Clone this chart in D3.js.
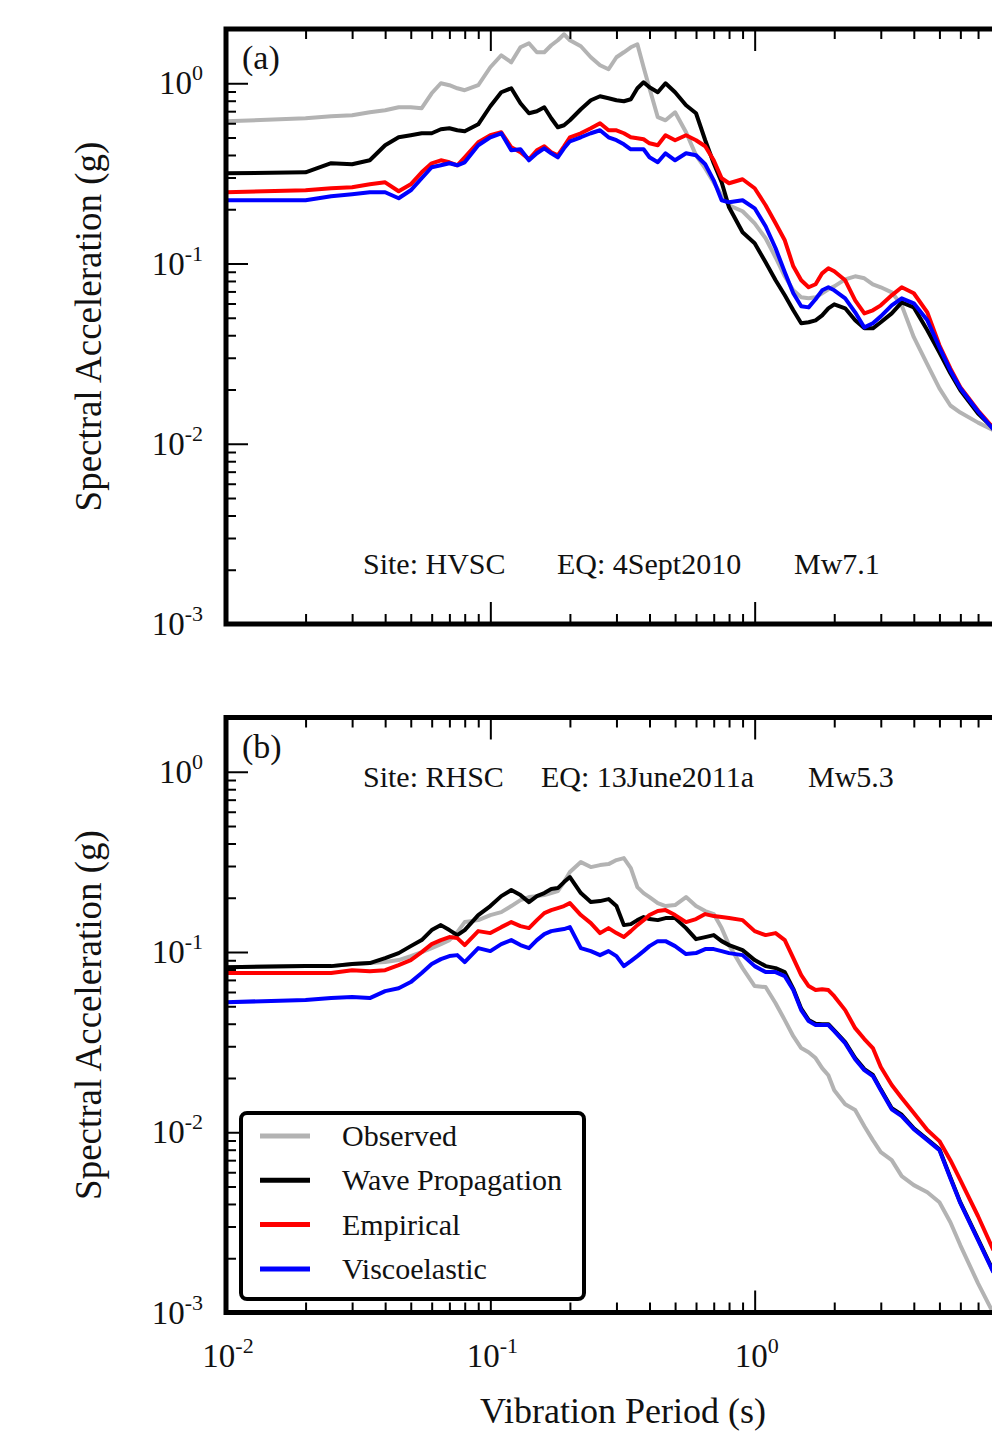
<!DOCTYPE html>
<html>
<head>
<meta charset="utf-8">
<script src="https://cdn.jsdelivr.net/npm/d3@7/dist/d3.min.js"></script>
<style>
  body { margin: 0; background: #fff; }
  text { font-family: "Liberation Serif", "Times New Roman", serif; fill: #111; }
</style>
</head>
<body>
<div id="chart"></div>
<script>
// periods (s), shared by every curve
var periods = [0.01, 0.02, 0.025, 0.03, 0.035, 0.04, 0.045, 0.05, 0.055, 0.06, 0.065, 0.07, 0.075, 0.08, 0.09,
  0.1, 0.11, 0.12, 0.13, 0.14, 0.15, 0.16, 0.17, 0.18, 0.19, 0.2, 0.22, 0.24, 0.26, 0.28, 0.3,
  0.32, 0.34, 0.36, 0.38, 0.4, 0.43, 0.46, 0.5, 0.55, 0.6, 0.65, 0.7, 0.75, 0.8, 0.9,
  1.0, 1.1, 1.2, 1.3, 1.4, 1.5, 1.6, 1.7, 1.8, 1.9, 2.0, 2.2, 2.4, 2.6, 2.8, 3.0, 3.3, 3.6,
  4.0, 4.5, 5.0, 5.5, 6.0, 7.0, 8.0];

// panel (a) - HVSC, 4 Sept 2010
var obsA = [0.615, 0.639, 0.656, 0.664, 0.690, 0.708, 0.736, 0.736, 0.727, 0.880, 1.0, 0.975, 0.938, 0.915, 0.975,
  1.227, 1.430, 1.307, 1.584, 1.667, 1.486, 1.486, 1.625, 1.732, 1.870, 1.732, 1.604, 1.394, 1.259,
  1.196, 1.394, 1.486, 1.584, 1.646, 1.227, 0.938, 0.648, 0.623, 0.690, 0.535, 0.398, 0.337, 0.282,
  0.239, 0.210, 0.195, 0.167, 0.138, 0.108, 0.0849, 0.0710, 0.0649, 0.0641, 0.0649, 0.0684, 0.0719,
  0.0747, 0.0817, 0.0849, 0.0828, 0.0767, 0.0738, 0.0692, 0.0586, 0.0390, 0.0276, 0.0203, 0.0163,
  0.0149, 0.0131, 0.0119];
var waveA = [0.3166, 0.3207, 0.3600, 0.3552, 0.3740, 0.4529, 0.5017, 0.5146, 0.5280, 0.5280, 0.5556, 0.5627, 0.5485,
  0.5416, 0.5922, 0.7455, 0.8914, 0.9382, 0.7745, 0.6816, 0.6993, 0.7360, 0.6394, 0.5700, 0.5847,
  0.6232, 0.7172, 0.8048, 0.8470, 0.8257, 0.8048, 0.7946, 0.8150, 0.9382, 1.013, 0.9502, 0.8914,
  1.0, 0.8914, 0.7547, 0.6816, 0.4829, 0.3598, 0.2822, 0.2050, 0.1490, 0.1295, 0.1016, 0.0807,
  0.0666, 0.0550, 0.0466, 0.0472, 0.0484, 0.0516, 0.0564, 0.0594, 0.0564, 0.0484, 0.0437, 0.0437,
  0.0472, 0.0529, 0.0609, 0.0571, 0.0426, 0.0321, 0.0246, 0.0198, 0.0147, 0.0122];
var empA = [0.2484, 0.2548, 0.2615, 0.2648, 0.2751, 0.2822, 0.2516, 0.2751, 0.3207, 0.3598, 0.3738, 0.3644, 0.3507,
  0.3884, 0.4705, 0.5146, 0.5347, 0.4414, 0.4142, 0.3786, 0.4246, 0.4471, 0.4142, 0.3985, 0.4471,
  0.5017, 0.5280, 0.5627, 0.5998, 0.5485, 0.5485, 0.5280, 0.5017, 0.4953, 0.4890, 0.4645, 0.4529,
  0.5146, 0.4829, 0.5146, 0.4829, 0.4471, 0.3738, 0.2971, 0.2787, 0.2934, 0.2615, 0.2104, 0.1671,
  0.1345, 0.0965, 0.0807, 0.0738, 0.0767, 0.0882, 0.0941, 0.0905, 0.0807, 0.0625, 0.0529, 0.0550,
  0.0586, 0.0666, 0.0738, 0.0684, 0.0536, 0.0352, 0.0262, 0.0206, 0.0153, 0.0122];
var viscoA = [0.2243, 0.2243, 0.2360, 0.2421, 0.2484, 0.2484, 0.2301, 0.2548, 0.2971, 0.3419, 0.3507, 0.3598, 0.3507,
  0.3644, 0.4529, 0.5017, 0.5280, 0.4246, 0.4302, 0.3738, 0.4089, 0.4357, 0.4089, 0.3884, 0.4357,
  0.4767, 0.5017, 0.5280, 0.5485, 0.5017, 0.4829, 0.4586, 0.4302, 0.4302, 0.4302, 0.3884, 0.3644,
  0.4089, 0.3738, 0.4089, 0.3985, 0.3552, 0.2894, 0.2243, 0.2186, 0.2243, 0.2024, 0.1609, 0.1215,
  0.0894, 0.0684, 0.0579, 0.0571, 0.0633, 0.0710, 0.0738, 0.0710, 0.0641, 0.0536, 0.0442, 0.0466,
  0.0509, 0.0586, 0.0641, 0.0601, 0.0484, 0.0343, 0.0255, 0.0203, 0.0151, 0.0120];

// panel (b) - RHSC, 13 June 2011a
var obsB = [0.0824, 0.0835, 0.0835, 0.0857, 0.0868, 0.0879, 0.0902, 0.0949, 0.0999, 0.1051, 0.1106, 0.1164, 0.1289,
  0.1466, 0.1503, 0.1603, 0.1665, 0.1798, 0.1941, 0.2017, 0.2042, 0.2069, 0.2123, 0.2178, 0.2443,
  0.2776, 0.3154, 0.2959, 0.3035, 0.3074, 0.3236, 0.3319, 0.2921, 0.2291, 0.2123, 0.2017, 0.1868,
  0.1798, 0.1821, 0.2017, 0.1798, 0.1687, 0.1623, 0.1357, 0.1092, 0.0814, 0.0647, 0.0639, 0.0520,
  0.0419, 0.0341, 0.0293, 0.0278, 0.0258, 0.0227, 0.0207, 0.0171, 0.0143, 0.0133, 0.0108, 0.00904,
  0.00776, 0.00700, 0.00571, 0.00509, 0.00465, 0.00409, 0.00317, 0.00236, 0.00145, 0.00099];
var waveB = [0.0824, 0.0835, 0.0835, 0.0857, 0.0868, 0.0925, 0.0986, 0.1078, 0.1164, 0.1323, 0.1410, 0.1323, 0.1241,
  0.1323, 0.1603, 0.1798, 0.2042, 0.2206, 0.2069, 0.1892, 0.2042, 0.2123, 0.2234, 0.2263, 0.2443,
  0.2604, 0.2123, 0.1892, 0.1916, 0.1966, 0.1798, 0.1410, 0.1428, 0.1503, 0.1562, 0.1523, 0.1503,
  0.1542, 0.1542, 0.1357, 0.1179, 0.1210, 0.1241, 0.1149, 0.1092, 0.1024, 0.0902, 0.0835, 0.0814,
  0.0774, 0.0625, 0.0485, 0.0420, 0.0400, 0.0398, 0.0398, 0.0368, 0.0316, 0.0258, 0.0224, 0.0208,
  0.0173, 0.0136, 0.0125, 0.0105, 0.00915, 0.00805, 0.00562, 0.00408, 0.00255, 0.00169];
var empB = [0.0764, 0.0764, 0.0764, 0.0793, 0.0783, 0.0793, 0.0846, 0.0902, 0.0999, 0.1106, 0.1164, 0.1210, 0.1194,
  0.1092, 0.1306, 0.1273, 0.1374, 0.1466, 0.1392, 0.1357, 0.1503, 0.1644, 0.1708, 0.1752, 0.1798,
  0.1868, 0.1603, 0.1446, 0.1273, 0.1357, 0.1273, 0.1210, 0.1306, 0.1410, 0.1503, 0.1603, 0.1687,
  0.1708, 0.1603, 0.1466, 0.1523, 0.1623, 0.1582, 0.1562, 0.1542, 0.1503, 0.1306, 0.1241, 0.1273,
  0.1164, 0.0925, 0.0744, 0.0647, 0.0615, 0.0622, 0.0615, 0.0569, 0.0476, 0.0378, 0.0329, 0.0293,
  0.0230, 0.0183, 0.0155, 0.0128, 0.0103, 0.00893, 0.00700, 0.00542, 0.00342, 0.00222];
var viscoB = [0.0527, 0.0541, 0.0555, 0.0562, 0.0555, 0.0607, 0.0630, 0.0681, 0.0764, 0.0857, 0.0913, 0.0949, 0.0961,
  0.0879, 0.1051, 0.1012, 0.1106, 0.1164, 0.1092, 0.1051, 0.1164, 0.1257, 0.1306, 0.1323, 0.1340,
  0.1374, 0.1051, 0.1012, 0.0961, 0.1012, 0.0949, 0.0835, 0.0890, 0.0949, 0.1012, 0.1078, 0.1149,
  0.1149, 0.1078, 0.0974, 0.0986, 0.1038, 0.1038, 0.1012, 0.0986, 0.0961, 0.0835, 0.0774, 0.0774,
  0.0735, 0.0615, 0.0476, 0.0414, 0.0393, 0.0393, 0.0393, 0.0364, 0.0312, 0.0254, 0.0221, 0.0205,
  0.0171, 0.0134, 0.0123, 0.0104, 0.00904, 0.00796, 0.00556, 0.00404, 0.00252, 0.00167];

var seriesNames = ["Observed", "Wave Propagation", "Empirical", "Viscoelastic"];
var seriesColors = ["#b3b3b3", "#000000", "#ff0000", "#0000ff"];

var xMajor = [0.01, 0.1, 1, 10];
var xLabelled = [0.01, 0.1, 1];
var xExp = ["-2", "-1", "0"];
var yMajor = [0.001, 0.01, 0.1, 1];
var yExp = ["-3", "-2", "-1", "0"];

var panelTags = ["(a)", "(b)"];
var siteText = ["Site: HVSC", "Site: RHSC"];
var eqText = ["EQ: 4Sept2010", "EQ: 13June2011a"];
var mwText = ["Mw7.1", "Mw5.3"];

var width = 992, height = 1433;
var left = 226, right = 1019;
var panelTop = [29, 717.5];
var panelH = 595;
var panelSeries = [[obsA, waveA, empA, viscoA], [obsB, waveB, empB, viscoB]];

var x = d3.scaleLog().domain([0.01, 10]).range([left, right]);

var minorX = [], minorY = [];
[0.01, 0.1, 1].forEach(function(p) {
  for (var m = 2; m <= 9; m++) minorX.push(m * p);
});
[0.001, 0.01, 0.1].forEach(function(p) {
  for (var m = 2; m <= 9; m++) minorY.push(m * p);
});

var svg = d3.select("#chart").append("svg")
  .attr("width", width)
  .attr("height", height);

function styleAxis(g) {
  g.select(".domain").remove();
  g.selectAll("line").attr("stroke", "#000").attr("stroke-width", 2);
}

panelTop.forEach(function(top, p) {
  var bottom = top + panelH;
  var y = d3.scaleLog().domain([0.001, 2]).range([bottom, top]);

  var clipId = "clip" + p;
  svg.append("clipPath").attr("id", clipId)
    .append("rect")
    .attr("x", left).attr("y", top)
    .attr("width", right - left).attr("height", panelH);

  var line = d3.line()
    .x(function(d, i) { return x(periods[i]); })
    .y(function(d) { return y(d); });

  svg.append("g")
    .attr("clip-path", "url(#" + clipId + ")")
    .selectAll("path")
    .data(panelSeries[p])
    .enter().append("path")
    .attr("d", line)
    .attr("fill", "none")
    .attr("stroke", function(d, i) { return seriesColors[i]; })
    .attr("stroke-width", 4)
    .attr("stroke-linejoin", "round");

  // ticks, all pointing inward
  svg.append("g").attr("transform", "translate(" + left + ",0)")
    .call(d3.axisLeft(y).tickValues(minorY).tickSize(-10).tickFormat(""))
    .call(styleAxis);
  svg.append("g").attr("transform", "translate(" + left + ",0)")
    .call(d3.axisLeft(y).tickValues(yMajor).tickSize(-22).tickFormat(""))
    .call(styleAxis);
  [[top, d3.axisTop], [bottom, d3.axisBottom]].forEach(function(a) {
    svg.append("g").attr("transform", "translate(0," + a[0] + ")")
      .call(a[1](x).tickValues(minorX).tickSize(-10).tickFormat(""))
      .call(styleAxis);
    svg.append("g").attr("transform", "translate(0," + a[0] + ")")
      .call(a[1](x).tickValues(xMajor).tickSize(-22).tickFormat(""))
      .call(styleAxis);
  });

  // frame
  svg.append("rect")
    .attr("x", left).attr("y", top)
    .attr("width", right - left).attr("height", panelH)
    .attr("fill", "none")
    .attr("stroke", "#000")
    .attr("stroke-width", 5);

  // y tick labels with superscript exponent
  var yl = svg.append("g").selectAll("text")
    .data(yMajor)
    .enter().append("text")
    .attr("x", 203)
    .attr("y", function(d) { return y(d) + 11; })
    .attr("text-anchor", "end")
    .style("font-size", "33px")
    .text("10");
  yl.append("tspan")
    .attr("dy", -14)
    .style("font-size", "22px")
    .text(function(d, i) { return yExp[i]; });

  svg.append("text")
    .attr("transform", "translate(101," + (top + panelH / 2) + ") rotate(-90)")
    .attr("text-anchor", "middle")
    .style("font-size", "37px")
    .text("Spectral Acceleration (g)");

  svg.append("text")
    .attr("x", 242).attr("y", top + 40)
    .style("font-size", "34px")
    .text(panelTags[p]);

  var noteY = p === 0 ? 574 : top + 69;
  svg.append("g").selectAll("text")
    .data([[363, siteText[p]], [p === 0 ? 557 : 541, eqText[p]], [p === 0 ? 794 : 808, mwText[p]]])
    .enter().append("text")
    .attr("x", function(d) { return d[0]; })
    .attr("y", noteY)
    .style("font-size", "30px")
    .text(function(d) { return d[1]; });

  if (p === 1) {
    var xl = svg.append("g").selectAll("text")
      .data(xLabelled)
      .enter().append("text")
      .attr("x", function(d) { return x(d) + 2; })
      .attr("y", bottom + 54)
      .attr("text-anchor", "middle")
      .style("font-size", "33px")
      .text("10");
    xl.append("tspan")
      .attr("dy", -14)
      .style("font-size", "22px")
      .text(function(d, i) { return xExp[i]; });

    svg.append("text")
      .attr("x", 623).attr("y", 1423)
      .attr("text-anchor", "middle")
      .style("font-size", "36px")
      .text("Vibration Period (s)");

    // legend
    var lg = svg.append("g").attr("transform", "translate(241,1113)");
    lg.append("rect")
      .attr("width", 343).attr("height", 186)
      .attr("rx", 6)
      .attr("fill", "#fff")
      .attr("stroke", "#000")
      .attr("stroke-width", 4);
    var rows = lg.selectAll(".row")
      .data(seriesNames)
      .enter().append("g")
      .attr("class", "row")
      .attr("transform", function(d, i) { return "translate(0," + (23 + i * 44.3) + ")"; });
    rows.append("line")
      .attr("x1", 19).attr("x2", 69)
      .attr("stroke", function(d, i) { return seriesColors[i]; })
      .attr("stroke-width", 5);
    rows.append("text")
      .attr("x", 101).attr("y", 10)
      .style("font-size", "30px")
      .text(function(d) { return d; });
  }
});
</script>
</body>
</html>
